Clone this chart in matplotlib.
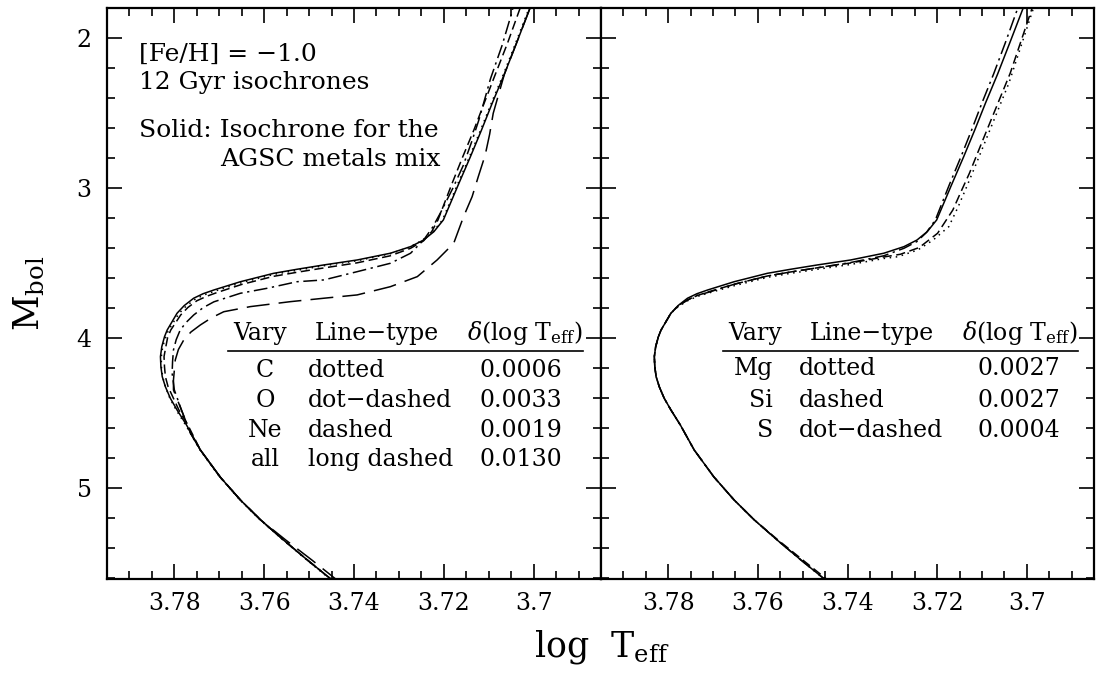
import matplotlib
matplotlib.use("Agg")
import matplotlib.pyplot as plt
from matplotlib.ticker import MultipleLocator, FuncFormatter

plt.rcParams['font.family'] = ['DejaVu Serif']
plt.rcParams['mathtext.fontset'] = 'dejavuserif'

# ---- isochrone tracks (log Teff, Mbol) ----
# reference isochrone, AGSC metals mix (solid, both panels)
solid_x = [3.7441, 3.7504, 3.7557, 3.7608, 3.7653, 3.7698, 3.7742, 3.7773, 3.7794, 3.7809,
           3.7820, 3.7827, 3.7830, 3.7831, 3.7828, 3.7822, 3.7816, 3.7794, 3.7778, 3.7757,
           3.7736, 3.7712, 3.7653, 3.7579, 3.7527, 3.7467, 3.7393, 3.7319, 3.7274, 3.7245,
           3.7222, 3.7201, 3.7168, 3.7141, 3.7116, 3.7092, 3.7065, 3.7038, 3.7008, 3.7005]
solid_y = [5.631, 5.478, 5.345, 5.211, 5.078, 4.925, 4.745, 4.578, 4.478, 4.400,
           4.323, 4.256, 4.189, 4.122, 4.056, 3.990, 3.945, 3.833, 3.782, 3.733,
           3.703, 3.678, 3.623, 3.567, 3.540, 3.511, 3.478, 3.433, 3.389, 3.345,
           3.289, 3.211, 2.978, 2.791, 2.611, 2.431, 2.238, 2.031, 1.798, 1.771]

# left panel: C (dotted)
c_x = [3.7443, 3.7505, 3.7558, 3.7609, 3.7654, 3.7699, 3.7743, 3.7775, 3.7796, 3.7810,
       3.7820, 3.7826, 3.7829, 3.7829, 3.7826, 3.7819, 3.7813, 3.7790, 3.7774, 3.7753,
       3.7732, 3.7708, 3.7650, 3.7577, 3.7525, 3.7466, 3.7393, 3.7320, 3.7276, 3.7248,
       3.7224, 3.7203, 3.7170, 3.7143, 3.7118, 3.7094, 3.7067, 3.7040, 3.7010, 3.7007]
c_y = [5.631, 5.478, 5.345, 5.211, 5.078, 4.925, 4.745, 4.578, 4.478, 4.400,
       4.323, 4.256, 4.189, 4.122, 4.056, 3.990, 3.945, 3.836, 3.786, 3.738,
       3.709, 3.684, 3.629, 3.573, 3.546, 3.516, 3.483, 3.437, 3.392, 3.347,
       3.290, 3.211, 2.978, 2.791, 2.611, 2.431, 2.238, 2.031, 1.798, 1.771]

# left panel: O (dot-dashed)
o_x = [3.7441, 3.7504, 3.7557, 3.7608, 3.7653, 3.7698, 3.7742, 3.7764, 3.7784, 3.7800,
       3.7805, 3.7804, 3.7802, 3.7796, 3.7787, 3.7774, 3.7757, 3.7736, 3.7712, 3.7653,
       3.7594, 3.7527, 3.7467, 3.7393, 3.7319, 3.7274, 3.7245, 3.7225, 3.7208, 3.7180,
       3.7157, 3.7138, 3.7122, 3.7096, 3.7070, 3.7048, 3.7045]
o_y = [5.631, 5.478, 5.345, 5.211, 5.078, 4.925, 4.745, 4.633, 4.480, 4.345,
       4.233, 4.155, 4.078, 4.010, 3.945, 3.895, 3.845, 3.796, 3.757, 3.700,
       3.667, 3.623, 3.611, 3.556, 3.500, 3.433, 3.345, 3.260, 3.167, 3.000,
       2.850, 2.690, 2.545, 2.269, 2.045, 1.823, 1.778]

# left panel: Ne (dashed)
ne_x = [3.7441, 3.7504, 3.7557, 3.7608, 3.7653, 3.7698, 3.7742, 3.7770, 3.7790, 3.7814,
        3.7820, 3.7822, 3.7823, 3.7819, 3.7815, 3.7808, 3.7786, 3.7770, 3.7750, 3.7728,
        3.7705, 3.7650, 3.7579, 3.7527, 3.7467, 3.7393, 3.7319, 3.7274, 3.7245, 3.7227,
        3.7213, 3.7183, 3.7158, 3.7133, 3.7110, 3.7085, 3.7058, 3.7030, 3.7027]
ne_y = [5.631, 5.478, 5.345, 5.211, 5.078, 4.925, 4.745, 4.578, 4.478, 4.323,
        4.256, 4.189, 4.122, 4.056, 3.995, 3.945, 3.845, 3.795, 3.750, 3.720,
        3.695, 3.641, 3.587, 3.560, 3.531, 3.497, 3.450, 3.400, 3.350, 3.289,
        3.211, 2.978, 2.791, 2.611, 2.431, 2.238, 2.031, 1.798, 1.771]

# left panel: all metals (long dashed)
all_x = [3.7430, 3.7494, 3.7552, 3.7608, 3.7653, 3.7698, 3.7742, 3.7764, 3.7784, 3.7802,
         3.7802, 3.7798, 3.7791, 3.7779, 3.7763, 3.7742, 3.7717, 3.7690, 3.7631, 3.7542,
         3.7467, 3.7393, 3.7319, 3.7259, 3.7215, 3.7178, 3.7156, 3.7137, 3.7123, 3.7108,
         3.7098, 3.7090, 3.7065, 3.7038, 3.7008, 3.7005]
all_y = [5.631, 5.478, 5.345, 5.211, 5.078, 4.925, 4.745, 4.633, 4.480, 4.345,
         4.278, 4.145, 4.075, 4.011, 3.958, 3.911, 3.863, 3.823, 3.789, 3.756,
         3.733, 3.711, 3.656, 3.589, 3.478, 3.367, 3.189, 3.056, 2.920, 2.780,
         2.640, 2.500, 2.238, 2.031, 1.798, 1.771]

# right panel: Mg (dotted)
mg_x = [3.7441, 3.7504, 3.7557, 3.7608, 3.7653, 3.7698, 3.7742, 3.7773, 3.7794, 3.7809,
        3.7820, 3.7827, 3.7830, 3.7831, 3.7828, 3.7822, 3.7816, 3.7794, 3.7778, 3.7757,
        3.7736, 3.7712, 3.7653, 3.7579, 3.7527, 3.7467, 3.7393, 3.7319, 3.7287, 3.7243,
        3.7209, 3.7174, 3.7153, 3.7134, 3.7114, 3.7040, 3.6985, 3.6980]
mg_y = [5.631, 5.478, 5.345, 5.211, 5.078, 4.925, 4.745, 4.578, 4.478, 4.400,
        4.323, 4.256, 4.189, 4.122, 4.056, 3.990, 3.945, 3.833, 3.790, 3.750,
        3.722, 3.700, 3.650, 3.594, 3.567, 3.540, 3.508, 3.468, 3.456, 3.411,
        3.345, 3.256, 3.123, 2.989, 2.845, 2.300, 1.798, 1.771]

# right panel: Si (dashed)
si_x = [3.7436, 3.7500, 3.7555, 3.7608, 3.7653, 3.7698, 3.7742, 3.7773, 3.7794, 3.7809,
        3.7820, 3.7827, 3.7830, 3.7831, 3.7828, 3.7822, 3.7816, 3.7794, 3.7778, 3.7757,
        3.7736, 3.7712, 3.7653, 3.7579, 3.7527, 3.7467, 3.7393, 3.7319, 3.7282, 3.7240,
        3.7199, 3.7165, 3.7145, 3.7128, 3.7098, 3.7037, 3.6988, 3.6984]
si_y = [5.631, 5.478, 5.345, 5.211, 5.078, 4.925, 4.745, 4.578, 4.478, 4.400,
        4.323, 4.256, 4.189, 4.122, 4.056, 3.990, 3.945, 3.833, 3.785, 3.745,
        3.716, 3.692, 3.640, 3.585, 3.558, 3.530, 3.498, 3.458, 3.440, 3.395,
        3.300, 3.145, 3.011, 2.900, 2.678, 2.233, 1.798, 1.771]

# right panel: S (dot-dashed)
s_x = [3.7441, 3.7504, 3.7557, 3.7608, 3.7653, 3.7698, 3.7742, 3.7773, 3.7794, 3.7809,
       3.7820, 3.7827, 3.7830, 3.7831, 3.7828, 3.7822, 3.7816, 3.7794, 3.7778, 3.7757,
       3.7736, 3.7712, 3.7653, 3.7579, 3.7527, 3.7467, 3.7393, 3.7319, 3.7274, 3.7245,
       3.7224, 3.7204, 3.7173, 3.7147, 3.7123, 3.7100, 3.7074, 3.7048, 3.7020, 3.7017]
s_y = [5.631, 5.478, 5.345, 5.211, 5.078, 4.925, 4.745, 4.578, 4.478, 4.400,
       4.323, 4.256, 4.189, 4.122, 4.056, 3.990, 3.945, 3.833, 3.783, 3.745,
       3.714, 3.695, 3.640, 3.585, 3.558, 3.530, 3.495, 3.450, 3.400, 3.355,
       3.295, 3.211, 2.978, 2.791, 2.611, 2.431, 2.238, 2.031, 1.798, 1.771]

# table contents
left_rows = [("C", "dotted", "0.0006"), ("O", "dot\u2212dashed", "0.0033"),
             ("Ne", "dashed", "0.0019"), ("all", "long dashed", "0.0130")]
right_rows = [("Mg", "dotted", "0.0027"), ("Si", "dashed", "0.0027"),
              ("S", "dot\u2212dashed", "0.0004")]

DOT = (0, (1, 3))
DASH = (0, (6, 3))
DOTDASH = (0, (9, 3, 1.5, 3))
LONGDASH = (0, (15, 6))

W, H = 1096, 679
fig = plt.figure(figsize=(W / 100, H / 100), dpi=100)
ax1 = fig.add_axes([107 / W, 100 / H, 494 / W, 571 / H])
ax2 = fig.add_axes([601 / W, 100 / H, 493 / W, 571 / H])

lw = 1.1
ax1.plot(solid_x, solid_y, color='k', lw=lw)
ax1.plot(c_x, c_y, color='k', lw=lw, linestyle=DOT)
ax1.plot(o_x, o_y, color='k', lw=lw, linestyle=DOTDASH)
ax1.plot(ne_x, ne_y, color='k', lw=lw, linestyle=DASH)
ax1.plot(all_x, all_y, color='k', lw=lw, linestyle=LONGDASH)

ax2.plot(solid_x, solid_y, color='k', lw=lw)
ax2.plot(mg_x, mg_y, color='k', lw=lw, linestyle=DOT)
ax2.plot(si_x, si_y, color='k', lw=lw, linestyle=DASH)
ax2.plot(s_x, s_y, color='k', lw=lw, linestyle=DOTDASH)

fmt = FuncFormatter(lambda v, p: '%g' % round(v, 3))
for ax in (ax1, ax2):
    ax.set_xlim(3.795, 3.685)
    ax.set_ylim(5.605, 1.798)
    ax.xaxis.set_major_locator(MultipleLocator(0.02))
    ax.xaxis.set_minor_locator(MultipleLocator(0.005))
    ax.yaxis.set_major_locator(MultipleLocator(1))
    ax.yaxis.set_minor_locator(MultipleLocator(0.2))
    ax.xaxis.set_major_formatter(fmt)
    ax.tick_params(which='both', direction='in', top=True, right=True, width=1.2)
    ax.tick_params(which='major', length=11)
    ax.tick_params(which='minor', length=6)
    ax.tick_params(axis='x', labelsize=17, pad=9)
    ax.tick_params(axis='y', labelsize=17, pad=11)
    for sp in ax.spines.values():
        sp.set_linewidth(1.6)
ax2.tick_params(axis='y', labelleft=False)

fs = 17
ft = 18
ax1.text(0.065, 0.919, "[Fe/H] = \u22121.0", transform=ax1.transAxes, fontsize=ft, va='center')
ax1.text(0.065, 0.869, "12 Gyr isochrones", transform=ax1.transAxes, fontsize=ft, va='center')
ax1.text(0.065, 0.786, "Solid: Isochrone for the", transform=ax1.transAxes, fontsize=ft, va='center')
ax1.text(0.229, 0.734, "AGSC metals mix", transform=ax1.transAxes, fontsize=ft, va='center')

hdr = r"$\delta$(log T$_{\rm eff}$)"


def table(ax, xs, line, rows, col1_ha, row_y):
    hy = 0.4186
    ax.text(xs[0], hy, "Vary", transform=ax.transAxes, fontsize=fs, va='baseline')
    ax.text(xs[1], hy, "Line\u2212type", transform=ax.transAxes, fontsize=fs, va='baseline')
    ax.text(xs[2], hy, hdr, transform=ax.transAxes, fontsize=fs, va='baseline')
    ax.plot(line, [0.399, 0.399], transform=ax.transAxes, color='k', lw=1.2, clip_on=False)
    for (el, ls, d), y in zip(rows, row_y):
        ax.text(xs[3], y, el, transform=ax.transAxes, fontsize=fs, va='baseline', ha=col1_ha)
        ax.text(xs[4], y, ls, transform=ax.transAxes, fontsize=fs, va='baseline')
        ax.text(xs[5], y, d, transform=ax.transAxes, fontsize=fs, va='baseline')


table(ax1, [0.255, 0.421, 0.729, 0.320, 0.407, 0.755], [0.245, 0.964], left_rows, 'center',
      [0.354, 0.301, 0.249, 0.198])
table(ax2, [0.258, 0.424, 0.732, 0.349, 0.402, 0.763], [0.247, 0.968], right_rows, 'right',
      [0.357, 0.301, 0.249])

fig.text(602 / W, (H - 656) / H, r"log  T$_{\rm eff}$", fontsize=25, ha='center', va='baseline')
fig.text(12 / W, (H - 293) / H, r"M$_{\rm bol}$", fontsize=25, rotation=90, ha='left', va='center')

fig.savefig("out.png", dpi=100)
